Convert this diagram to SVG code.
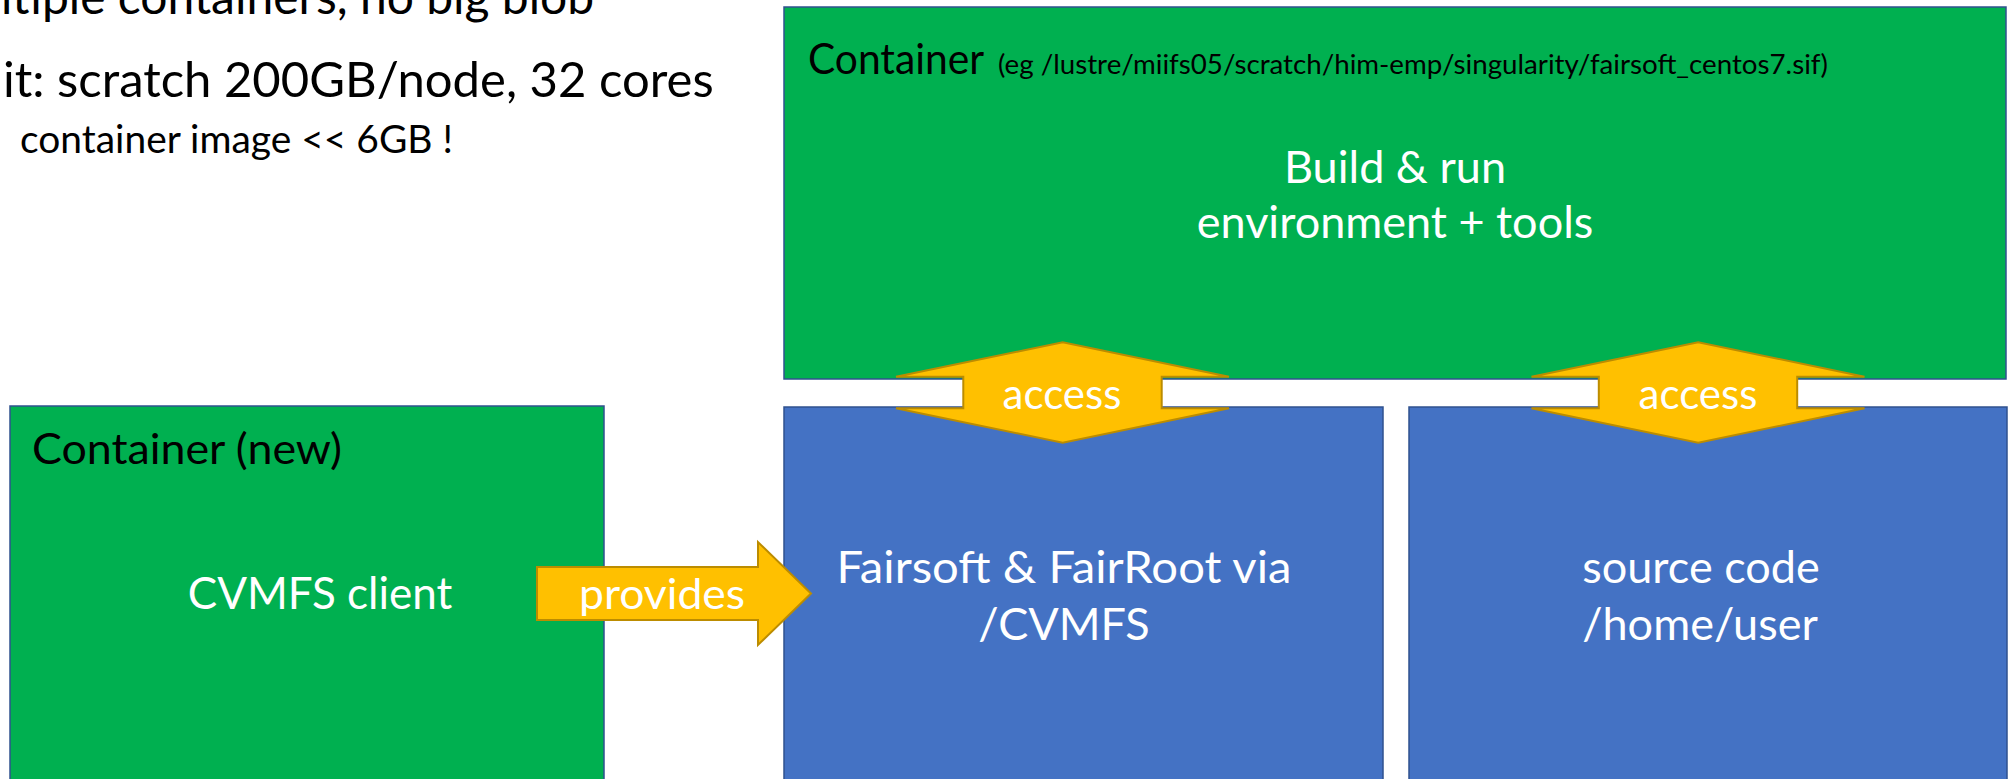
<svg xmlns="http://www.w3.org/2000/svg" width="2008" height="779" viewBox="0 0 2008 779">
<defs>
<style>
.t{font-family:Lato,"Liberation Sans",sans-serif;}
.box{stroke:#2F528F;stroke-width:1.5}
.green{fill:#00B050}
.blue{fill:#4472C4}
.arrow{fill:#FFC000;stroke:#BC8C00;stroke-width:2;stroke-linejoin:miter}
.w{fill:#FFFFFF}
.k{fill:#000000}
.c{text-anchor:middle}
</style>
</defs>
<rect width="2008" height="779" fill="#FFFFFF"/>
<g id="notes" class="t k">
<text x="1" y="14" font-size="48">ltiple containers, no big blob</text>
<text x="3" y="97" font-size="49">it: scratch 200GB/node, 32 cores</text>
<text x="20" y="153" font-size="38" textLength="433" lengthAdjust="spacingAndGlyphs">container image &lt;&lt; 6GB !</text>
</g>
<g id="container-build">
<rect class="box green" x="784" y="7" width="1222" height="372"/>
<text class="t k" x="808" y="74" font-size="42" textLength="176" lengthAdjust="spacingAndGlyphs">Container</text>
<text class="t k" x="998" y="74" font-size="26" textLength="830" lengthAdjust="spacingAndGlyphs">(eg /lustre/miifs05/scratch/him-emp/singularity/fairsoft_centos7.sif)</text>
<text class="t w c" x="1395" y="183" font-size="45">Build &amp; run</text>
<text class="t w c" x="1395" y="238" font-size="45">environment + tools</text>
</g>
<g id="container-new">
<rect class="box green" x="10" y="406" width="594" height="400"/>
<text class="t k" x="32" y="464" font-size="42" textLength="310" lengthAdjust="spacingAndGlyphs">Container (new)</text>
<text class="t w c" x="320" y="609" font-size="44">CVMFS client</text>
</g>
<g id="fairsoft">
<rect class="box blue" x="784" y="407" width="599" height="400"/>
<text class="t w c" x="1064" y="583" font-size="45" textLength="455" lengthAdjust="spacingAndGlyphs">Fairsoft &amp; FairRoot via</text>
<text class="t w c" x="1064" y="640" font-size="45">/CVMFS</text>
</g>
<g id="source">
<rect class="box blue" x="1409" y="407" width="598" height="400"/>
<text class="t w c" x="1701" y="583" font-size="45">source code</text>
<text class="t w c" x="1700" y="640" font-size="45">/home/user</text>
</g>
<g id="connectors">
<g id="access-1">
<path class="arrow" d="M896,376.7 L1062.7,342.3 L1229,376.7 L1161.7,376.7 L1161.7,408.3 L1229,408.3 L1062.7,442.7 L896,408.3 L963.3,408.3 L963.3,376.7 Z"/>
<text class="t w c" x="1062" y="409" font-size="42">access</text>
</g>
<g id="access-2">
<path class="arrow" d="M1531.5,376.7 L1698.2,342.3 L1864.5,376.7 L1797.2,376.7 L1797.2,408.3 L1864.5,408.3 L1698.2,442.7 L1531.5,408.3 L1598.8,408.3 L1598.8,376.7 Z"/>
<text class="t w c" x="1698" y="409" font-size="42">access</text>
</g>
<g id="provides">
<path class="arrow" d="M537,567 L758,567 L758,542 L811,593.5 L758,645 L758,620 L537,620 Z"/>
<text class="t w c" x="662" y="609" font-size="42" textLength="166" lengthAdjust="spacingAndGlyphs">provides</text>
</g>
</g>
</svg>
